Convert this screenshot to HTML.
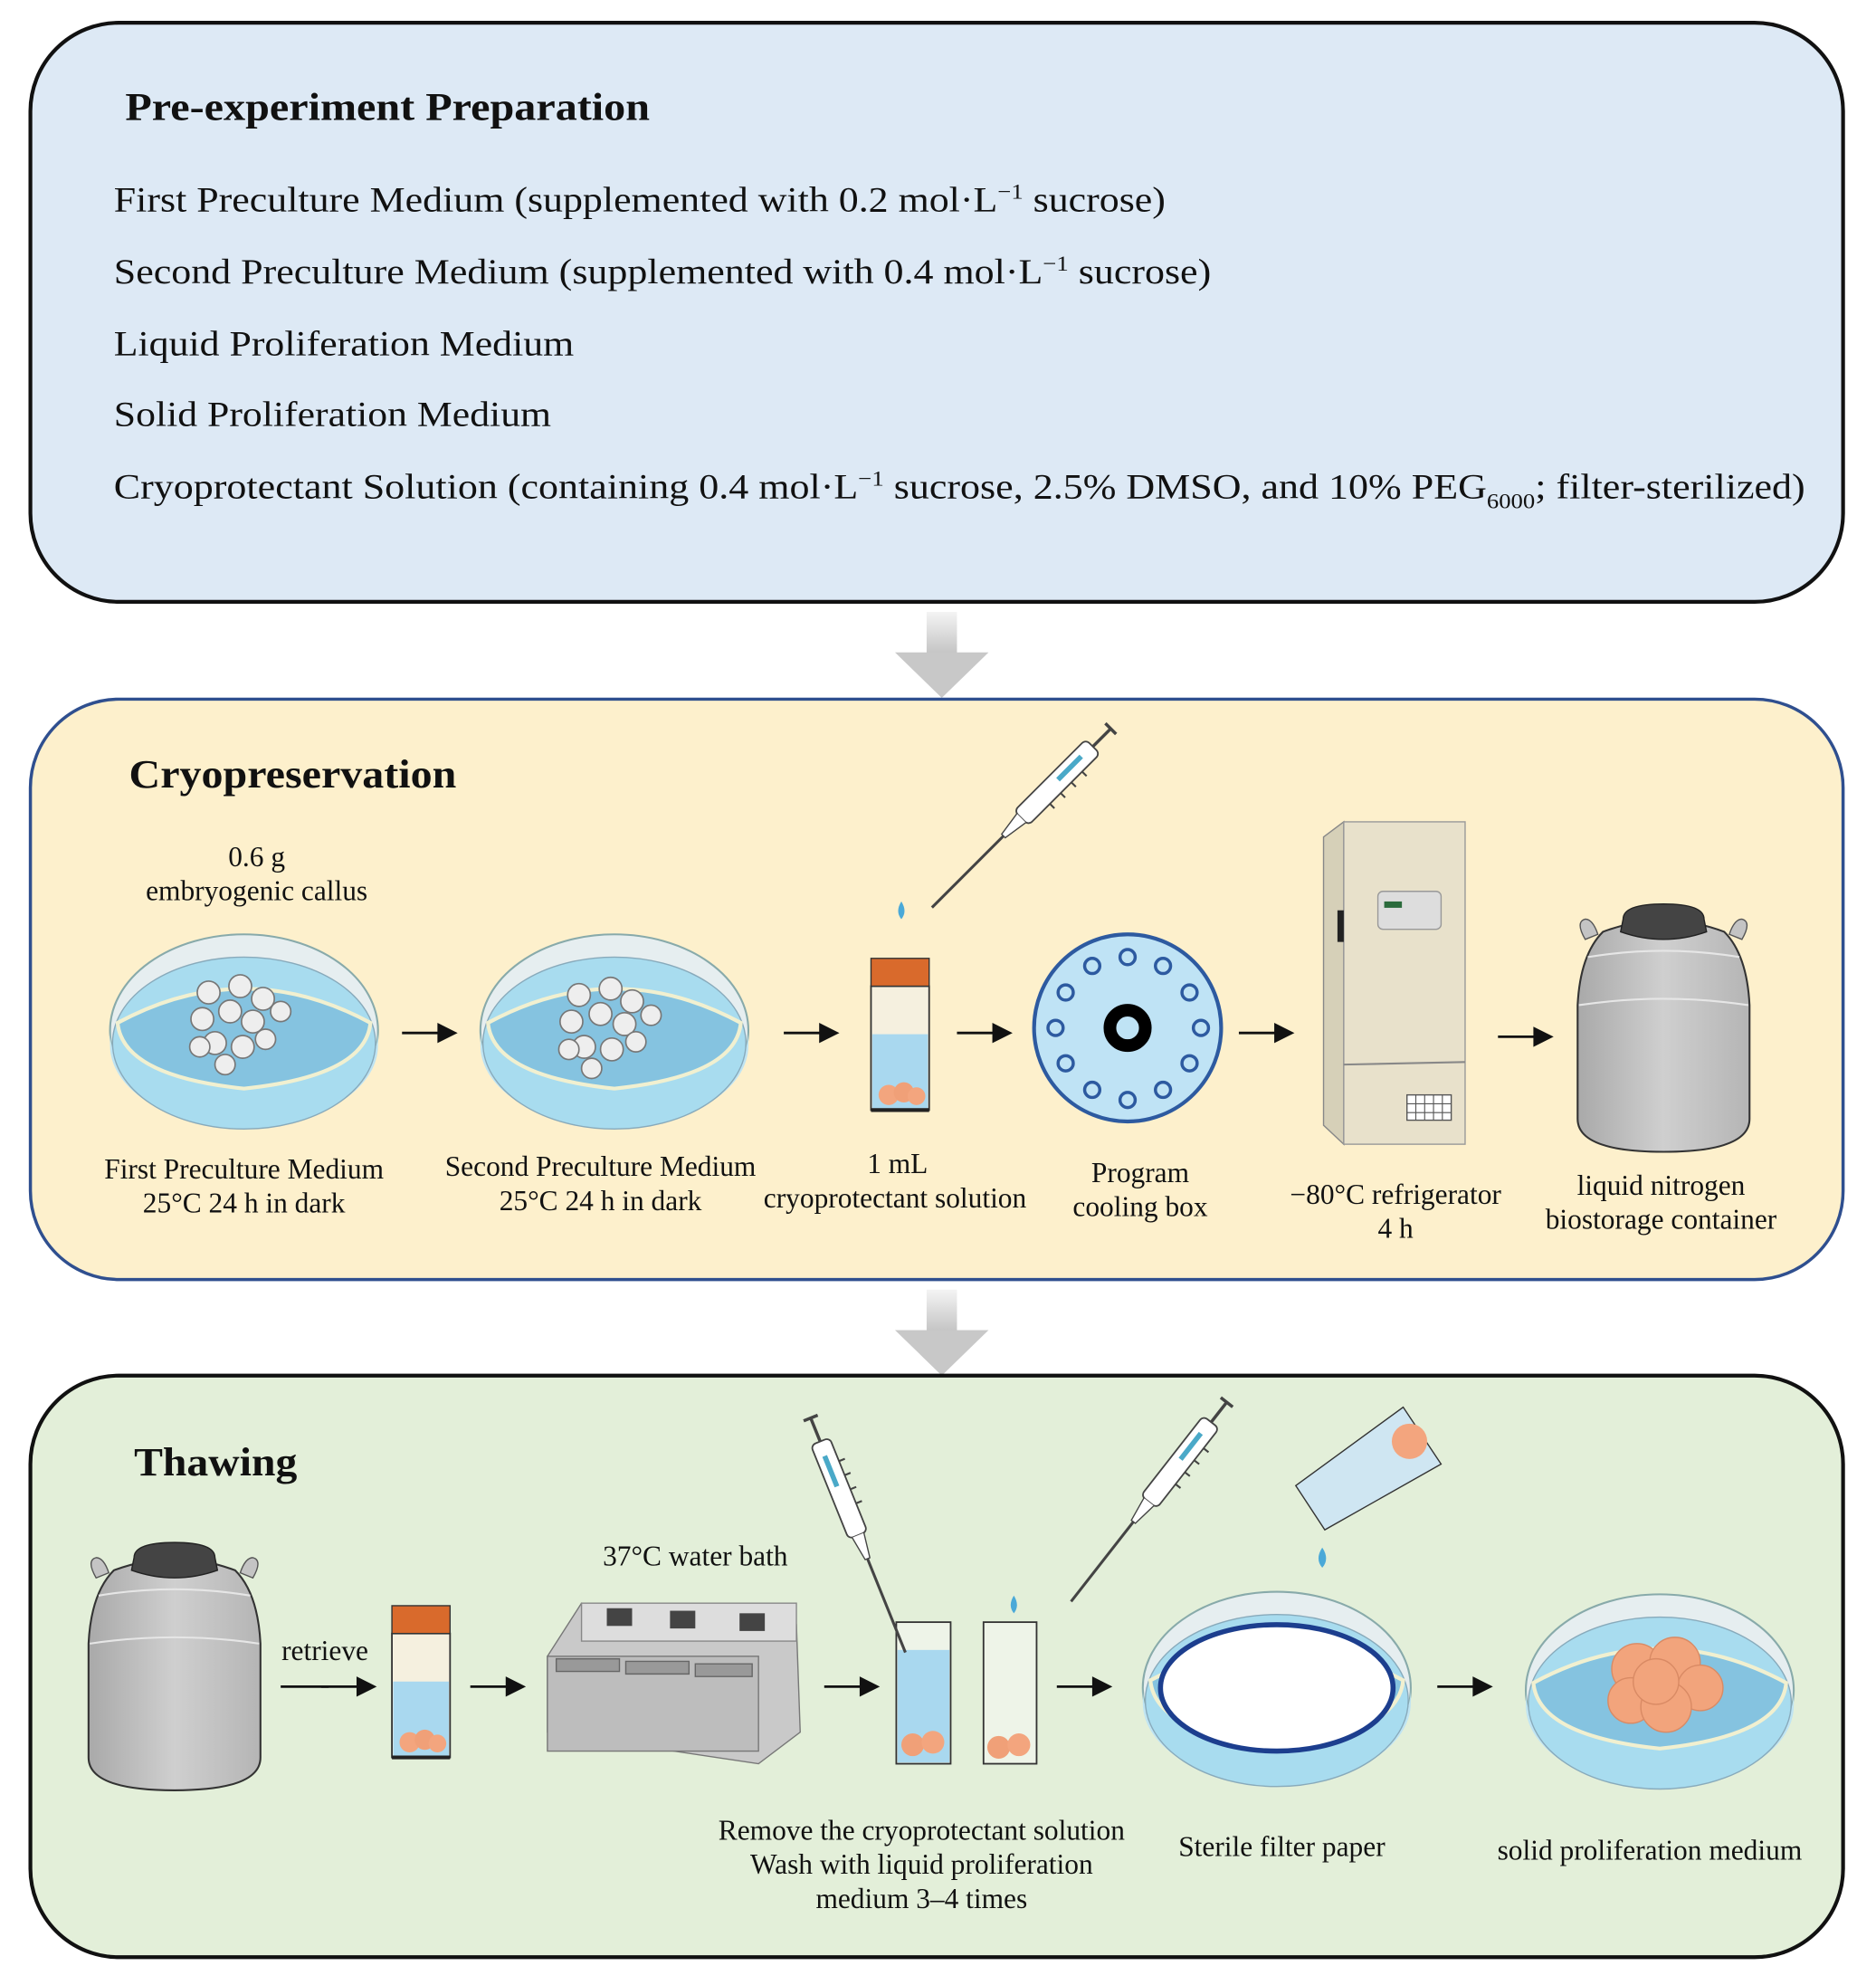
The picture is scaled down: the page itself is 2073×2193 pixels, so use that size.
<!DOCTYPE html>
<html><head><meta charset="utf-8"><style>html,body{margin:0;padding:0;background:#fff}svg{display:block}text{font-family:"Liberation Serif",serif;fill:#111}</style></head><body>
<svg width="2073" height="2193" viewBox="0 0 1484 1570" xmlns="http://www.w3.org/2000/svg">
<defs>
<linearGradient id="ga" x1="0" y1="0" x2="0" y2="1"><stop offset="0" stop-color="#f4f4f4"/><stop offset="1" stop-color="#bdbdbd"/></linearGradient>
<linearGradient id="steel" x1="0" y1="0" x2="1" y2="0"><stop offset="0" stop-color="#a9a9a9"/><stop offset="0.5" stop-color="#cfcfcf"/><stop offset="1" stop-color="#b5b5b5"/></linearGradient>
<g id="dewar">
<path d="M6 28 q-8 -14 0 -16 q6 0 10 12 z" fill="#c4c4c4" stroke="#555" stroke-width="1"/>
<path d="M130 28 q8 -14 0 -16 q-6 0 -10 12 z" fill="#c4c4c4" stroke="#555" stroke-width="1"/>
<path d="M20 22 Q68 4 116 22 Q134 40 136 80 L136 170 Q136 196 68 196 Q0 196 0 170 L0 80 Q2 40 20 22 Z" fill="url(#steel)" stroke="#333" stroke-width="1.5"/>
<path d="M8 42 Q68 32 128 42 M1 80 Q68 70 135 80" stroke="#e6e6e6" stroke-width="1.5" fill="none"/>
<path d="M36 12 Q36 0 68 0 Q100 0 100 12 L102 22 Q68 34 34 22 Z" fill="#444" stroke="#222"/>
</g>
<g id="pip">
<rect x="-8" y="-70" width="16" height="80" rx="4" fill="#fff" stroke="#444" stroke-width="1.3"/>
<rect x="-3" y="-58" width="4" height="26" fill="#4aa9c8"/>
<path d="M8 -50 h5 M8 -38 h5 M8 -26 h5 M8 -14 h5" stroke="#444" stroke-width="1.5"/>
<path d="M0 -70 V-90 M-6 -90 H6" stroke="#444" stroke-width="2.5"/>
<path d="M-5 10 L-2 30 L2 30 L5 10" fill="#fff" stroke="#444"/>
<line x1="0" y1="30" x2="0" y2="110" stroke="#444" stroke-width="2.2"/>
</g>
<g id="dish">
<ellipse cx="0" cy="0" rx="106" ry="76" fill="#e6eef0" stroke="#8aa" stroke-width="1.5"/>
<path d="M-106 0 A106 76 0 0 0 106 0 L106 12 A106 64 0 0 1 -106 12Z" fill="#bfe4f3"/>
<ellipse cx="0" cy="10" rx="104" ry="68" fill="#a8dcef" stroke="#8ab" stroke-width="1"/>
<path d="M-100 -6 Q0 -60 100 -6 Q96 36 0 46 Q-96 36 -100 -6Z" fill="#85c3e0" stroke="#f1f0d0" stroke-width="3"/>
</g>
<g id="tube">
<rect x="0" y="22" width="46" height="98" fill="#f5f0df" stroke="#333" stroke-width="1.3"/>
<rect x="1" y="60" width="44" height="59" fill="#a9d8ef"/>
<rect x="0" y="0" width="46" height="22" fill="#d96a2c" stroke="#333" stroke-width="1"/>
<circle cx="14" cy="108" r="8" fill="#f3a57e"/><circle cx="26" cy="106" r="8" fill="#f0a078"/><circle cx="36" cy="109" r="7" fill="#f3a57e"/>
<line x1="0" y1="120" x2="46" y2="120" stroke="#222" stroke-width="3"/>
</g>
<g id="sarrow"><line x1="0" y1="0" x2="30" y2="0" stroke="#111" stroke-width="2"/><path d="M28 -8 L44 0 L28 8Z" fill="#111"/></g>
<g id="bigarrow"><rect x="-12" y="0" width="24" height="38" fill="url(#ga)"/><path d="M-37 32 L37 32 L0 68Z" fill="#c8c8c8"/></g>
</defs>

<!-- Box 1 -->
<rect x="24" y="18" width="1434" height="458" rx="70" fill="#dde9f5" stroke="#111" stroke-width="3"/>
<text x="99" y="95" font-size="31" font-weight="bold" textLength="415" lengthAdjust="spacingAndGlyphs">Pre-experiment Preparation</text>
<g font-size="28">
<text x="90" y="167" textLength="832" lengthAdjust="spacingAndGlyphs">First Preculture Medium (supplemented with 0.2 mol·L<tspan dy="-10" font-size="17">−1</tspan><tspan dy="10"> sucrose)</tspan></text>
<text x="90" y="224" textLength="868" lengthAdjust="spacingAndGlyphs">Second Preculture Medium (supplemented with 0.4 mol·L<tspan dy="-10" font-size="17">−1</tspan><tspan dy="10"> sucrose)</tspan></text>
<text x="90" y="281" textLength="364" lengthAdjust="spacingAndGlyphs">Liquid Proliferation Medium</text>
<text x="90" y="337" textLength="346" lengthAdjust="spacingAndGlyphs">Solid Proliferation Medium</text>
<text x="90" y="394" textLength="1338" lengthAdjust="spacingAndGlyphs">Cryoprotectant Solution (containing 0.4 mol·L<tspan dy="-10" font-size="17">−1</tspan><tspan dy="10"> sucrose, 2.5% DMSO, and 10% PEG</tspan><tspan dy="8" font-size="17">6000</tspan><tspan dy="-8">; filter-sterilized)</tspan></text>
</g>
<use href="#bigarrow" x="745" y="484"/>

<!-- Box 2 -->
<rect x="24" y="553" width="1434" height="459" rx="70" fill="#fdf0cc" stroke="#2f4f8f" stroke-width="2.5"/>
<text x="102" y="623" font-size="32" font-weight="bold" textLength="259" lengthAdjust="spacingAndGlyphs">Cryopreservation</text>
<g font-size="22.5" text-anchor="middle">
<text x="203" y="685">0.6 g</text><text x="203" y="712">embryogenic callus</text>
<text x="193" y="932">First Preculture Medium</text><text x="193" y="959">25°C 24 h  in dark</text>
<text x="475" y="930">Second Preculture Medium</text><text x="475" y="957">25°C 24 h in dark</text>
<text x="710" y="928">1 mL</text><text x="708" y="955">cryoprotectant solution</text>
<text x="902" y="935">Program</text><text x="902" y="962">cooling box</text>
<text x="1104" y="952">−80°C  refrigerator</text><text x="1104" y="979">4 h</text>
<text x="1314" y="945">liquid nitrogen</text><text x="1314" y="972">biostorage container</text>
</g>
<use href="#dish" x="193" y="815"/>
<use href="#dish" x="486" y="815"/>
<g fill="#eee" stroke="#777" stroke-width="1.2">
<circle cx="165" cy="785" r="9"/><circle cx="190" cy="780" r="9"/><circle cx="208" cy="790" r="9"/><circle cx="222" cy="800" r="8"/><circle cx="160" cy="806" r="9"/><circle cx="182" cy="800" r="9"/><circle cx="200" cy="808" r="9"/><circle cx="170" cy="825" r="9"/><circle cx="192" cy="828" r="9"/><circle cx="210" cy="822" r="8"/><circle cx="178" cy="842" r="8"/><circle cx="158" cy="828" r="8"/>
<circle cx="458" cy="787" r="9"/><circle cx="483" cy="782" r="9"/><circle cx="500" cy="792" r="9"/><circle cx="515" cy="803" r="8"/><circle cx="452" cy="808" r="9"/><circle cx="475" cy="802" r="9"/><circle cx="494" cy="810" r="9"/><circle cx="462" cy="828" r="9"/><circle cx="484" cy="830" r="9"/><circle cx="503" cy="824" r="8"/><circle cx="468" cy="845" r="8"/><circle cx="450" cy="830" r="8"/>
</g>
<use href="#sarrow" x="318" y="817"/><use href="#sarrow" x="620" y="817"/><use href="#sarrow" x="757" y="817"/><use href="#sarrow" x="980" y="817"/><use href="#sarrow" x="1185" y="820"/>
<use href="#tube" x="689" y="758"/>
<use href="#pip" transform="translate(815,640) rotate(45)"/>
<path d="M713 713 q-5 8 0 14 q5 -6 0 -14z" fill="#4aa9d8"/>
<circle cx="892" cy="813" r="74" fill="#bfe3f5" stroke="#2d5aa0" stroke-width="3"/>
<g fill="#bfe3f5" stroke="#2d5aa0" stroke-width="2.5">
<circle cx="892" cy="757" r="6"/><circle cx="920" cy="764" r="6"/><circle cx="941" cy="785" r="6"/><circle cx="950" cy="813" r="6"/><circle cx="941" cy="841" r="6"/><circle cx="920" cy="862" r="6"/><circle cx="892" cy="870" r="6"/><circle cx="864" cy="862" r="6"/><circle cx="843" cy="841" r="6"/><circle cx="835" cy="813" r="6"/><circle cx="843" cy="785" r="6"/><circle cx="864" cy="764" r="6"/></g>
<circle cx="892" cy="813" r="14" fill="none" stroke="#000" stroke-width="10"/>
<!-- fridge -->
<path d="M1047 662 L1063 650 L1063 905 L1047 890Z" fill="#d6d0b8" stroke="#888"/>
<rect x="1063" y="650" width="96" height="255" fill="#e8e1cb" stroke="#999"/>
<line x1="1063" y1="842" x2="1159" y2="840" stroke="#888" stroke-width="1.5"/>
<rect x="1090" y="705" width="50" height="30" rx="4" fill="#ddd" stroke="#999"/>
<rect x="1095" y="713" width="14" height="5" fill="#2b6b3c"/>
<rect x="1058" y="720" width="5" height="25" fill="#222"/>
<rect x="1113" y="866" width="35" height="20" fill="#fff" stroke="#555"/>
<path d="M1120 866v20M1127 866v20M1134 866v20M1141 866v20M1113 873h35M1113 880h35" stroke="#555" stroke-width="0.8"/>
<use href="#dewar" x="1248" y="715"/>

<use href="#bigarrow" x="745" y="1020"/>

<!-- Box 3 -->
<rect x="24" y="1088" width="1434" height="460" rx="70" fill="#e3efd9" stroke="#111" stroke-width="3"/>
<text x="106" y="1167" font-size="32" font-weight="bold" textLength="129" lengthAdjust="spacingAndGlyphs">Thawing</text>
<use href="#dewar" x="70" y="1220"/>
<g font-size="22.5" text-anchor="middle">
<text x="257" y="1313">retrieve</text>
<text x="550" y="1238">37°C water bath</text>
<text x="729" y="1455">Remove the cryoprotectant solution</text>
<text x="729" y="1482">Wash with liquid proliferation</text>
<text x="729" y="1509">medium 3–4 times</text>
<text x="1014" y="1468">Sterile filter paper</text>
<text x="1305" y="1471">solid proliferation medium</text>
</g>
<line x1="222" y1="1334" x2="260" y2="1334" stroke="#111" stroke-width="2"/><use href="#sarrow" x="254" y="1334"/>
<use href="#sarrow" x="372" y="1334"/><use href="#sarrow" x="652" y="1334"/><use href="#sarrow" x="836" y="1334"/><use href="#sarrow" x="1137" y="1334"/>
<use href="#tube" x="310" y="1270"/>
<!-- water bath -->
<path d="M433 1310 L460 1268 L630 1285 L633 1370 L600 1395 L433 1370Z" fill="#c9c9c9" stroke="#777"/>
<rect x="460" y="1268" width="170" height="30" fill="#ddd" stroke="#888"/>
<rect x="480" y="1272" width="20" height="14" fill="#444"/><rect x="530" y="1274" width="20" height="14" fill="#444"/><rect x="585" y="1276" width="20" height="14" fill="#444"/>
<rect x="433" y="1310" width="167" height="75" fill="#bdbdbd" stroke="#777"/>
<path d="M440 1312 h50 v10 h-50z M495 1314 h50 v10 h-50z M550 1316 h45 v10 h-45z" fill="#999" stroke="#666"/>
<!-- beakers -->
<rect x="709" y="1283" width="43" height="112" fill="#eef4e8" stroke="#333" stroke-width="1.3"/>
<rect x="710" y="1305" width="41" height="89" fill="#a9d8ef"/>
<rect x="778" y="1283" width="42" height="112" fill="#eef4e8" stroke="#333" stroke-width="1.3"/>
<circle cx="722" cy="1380" r="9" fill="#f0a078"/><circle cx="738" cy="1378" r="9" fill="#f3a57e"/>
<circle cx="790" cy="1382" r="9" fill="#f0a078"/><circle cx="806" cy="1380" r="9" fill="#f3a57e"/>
<use href="#pip" transform="translate(675,1205) rotate(-22)"/>
<use href="#pip" transform="translate(915,1180) rotate(38)"/>
<path d="M802 1262 q-5 8 0 14 q5 -6 0 -14z" fill="#4aa9d8"/>
<path d="M1046 1224 q-6 9 0 16 q6 -7 0 -16z" fill="#4aa9d8"/>
<path d="M1025 1175 L1110 1113 L1140 1158 L1048 1210Z" fill="#cfe6f2" stroke="#333"/>
<circle cx="1115" cy="1140" r="14" fill="#f3a57e"/>
<!-- filter dish -->
<use href="#dish" x="1010" y="1335"/>
<ellipse cx="1010" cy="1335" rx="92" ry="50" fill="#fff" stroke="#1c3e8e" stroke-width="4"/>
<use href="#dish" x="1313" y="1337"/>
<g fill="#f2a47c" stroke="#d98a64" stroke-width="1">
<circle cx="1295" cy="1320" r="20"/><circle cx="1325" cy="1315" r="20"/><circle cx="1345" cy="1335" r="18"/><circle cx="1290" cy="1345" r="18"/><circle cx="1318" cy="1350" r="20"/><circle cx="1310" cy="1330" r="18"/></g>
</svg>
</body></html>
